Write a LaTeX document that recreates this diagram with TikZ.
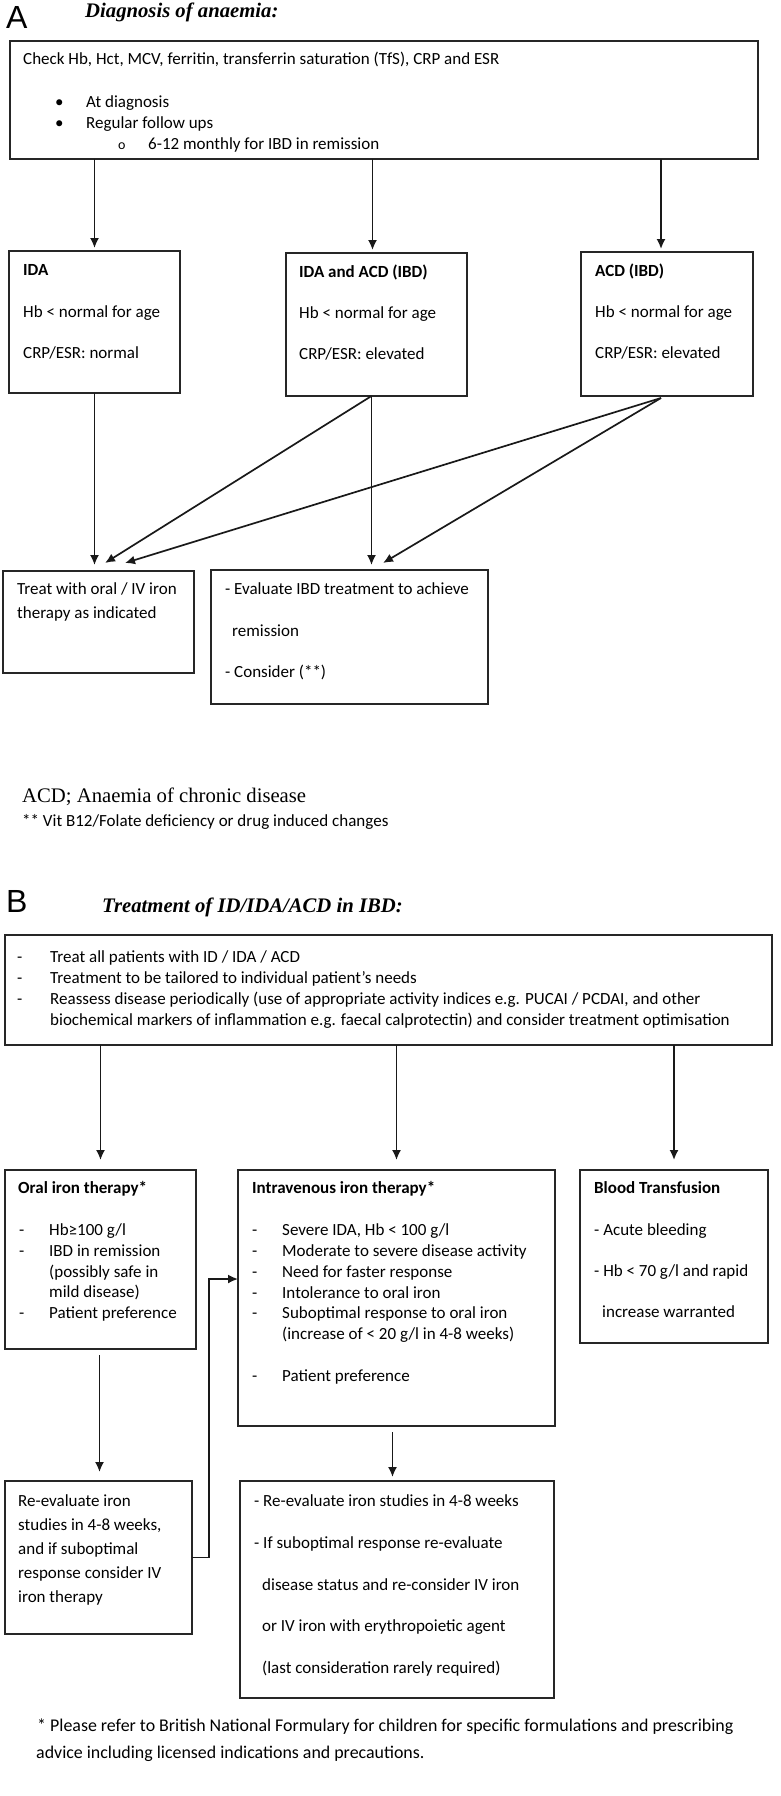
\documentclass[tikz,border=0pt]{standalone}
\usepackage{fontspec}
\setmainfont{Carlito}
\newfontfamily\tnr{Liberation Serif}
\newfontfamily\ari{Liberation Sans}
\usetikzlibrary{arrows.meta,calc}
\newcommand{\bodyf}{\fontsize{17pt}{20.7pt}\selectfont}
\begin{document}
\begin{tikzpicture}[x=1pt,y=-1pt,
 box/.style={draw=black!85,line width=1.6pt,rectangle,inner sep=0pt,outer sep=0pt,anchor=north west},
 tx/.style={anchor=base west,inner sep=0pt,font=\bodyf},
 hd/.style={anchor=base west,inner sep=0pt,font=\bodyf\bfseries},
 lab/.style={anchor=base west,inner sep=0pt,font=\ari\fontsize{32pt}{32pt}\selectfont},
 ttl/.style={anchor=base west,inner sep=0pt,font=\tnr\fontsize{20.7pt}{24pt}\selectfont\bfseries\itshape},
 arr/.style={-{Latex[length=10pt,width=9pt]},line width=1.7pt,draw=black!90},
]
\useasboundingbox (0,0) rectangle (780,1796);

% ---------------- Part A ----------------
\node[lab] (labA) at (6,28) {A};
\node[ttl] (ttlA) at (85,17) {Diagnosis of anaemia:};

\node[box,minimum width=748pt,minimum height=118pt] (chk) at (10,41) {};
\node[tx] (c1) at (23,64) {Check Hb, Hct, MCV, ferritin, transferrin saturation (TfS), CRP and ESR};
\node[tx] (c2b) at (55,107) {•};
\node[tx] (c2) at (86,107) {At diagnosis};
\node[tx] (c3b) at (55,128) {•};
\node[tx] (c3) at (86,128) {Regular follow ups};
\node[tx] (c4b) at (118,149) {\fontsize{14pt}{16pt}\selectfont o};
\node[tx] (c4) at (148,149) {6-12 monthly for IBD in remission};

\node[box,minimum width=171pt,minimum height=142pt] (ida) at (9,251) {};
\node[hd] (ida1) at (23,275) {IDA};
\node[tx] (ida2) at (23,317) {Hb < normal for age};
\node[tx] (ida3) at (23,358) {CRP/ESR: normal};

\node[box,minimum width=181pt,minimum height=143pt] (mid) at (286,253) {};
\node[hd] (mid1) at (299,277) {IDA and ACD (IBD)};
\node[tx] (mid2) at (299,318) {Hb < normal for age};
\node[tx] (mid3) at (299,359) {CRP/ESR: elevated};

\node[box,minimum width=172pt,minimum height=144pt] (acd) at (581,252) {};
\node[hd] (acd1) at (595,276) {ACD (IBD)};
\node[tx] (acd2) at (595,317) {Hb < normal for age};
\node[tx] (acd3) at (595,358) {CRP/ESR: elevated};

\node[box,minimum width=191pt,minimum height=102pt] (treat) at (3,571) {};
\node[tx] (tr1) at (17,594) {Treat with oral / IV iron};
\node[tx] (tr2) at (17,618) {therapy as indicated};

\node[box,minimum width=277pt,minimum height=134pt] (eval) at (211,570) {};
\node[tx] (ev1) at (225,594) {- Evaluate IBD treatment to achieve};
\node[tx] (ev2) at (232,636) {remission};
\node[tx] (ev3) at (225,677) {- Consider (**)};

\draw[arr,shorten >=3pt] (chk.south -| ida.north) -- (ida.north);
\draw[arr,shorten >=3pt] ([xshift=-4pt]chk.south -| mid.north) -- ([xshift=-4pt]mid.north);
\draw[arr,shorten >=3pt] ([xshift=-6pt]chk.south -| acd.north) -- ([xshift=-6pt]acd.north);

\coordinate (ta) at (105,563);
\coordinate (tb) at (125,563);
\coordinate (tc) at (383,563);
\draw[arr,shorten >=6pt] (ida.south) -- (ida.south |- treat.north);
\draw[arr] ([xshift=-5pt]mid.south) -- (ta);
\draw[arr,shorten >=5pt] ([xshift=-5pt]mid.south) -- ([xshift=-5pt]mid.south |- eval.north);
\draw[arr] ([xshift=-6pt,yshift=-2pt]acd.south) -- (tb);
\draw[arr] ([xshift=-6pt,yshift=-2pt]acd.south) -- (tc);

\node[anchor=base west,inner sep=0pt,font=\tnr\fontsize{20.7pt}{24pt}\selectfont] (fa1) at (22,802) {ACD; Anaemia of chronic disease};
\node[tx] (fa2) at (22,826) {** Vit B12/Folate deficiency or drug induced changes};

% ---------------- Part B ----------------
\node[lab] (labB) at (6,912) {B};
\node[ttl] (ttlB) at (102,912) {Treatment of ID/IDA/ACD in IBD:};

\node[box,minimum width=767pt,minimum height=110pt] (b1) at (5,935) {};
\node[tx] (b1d1) at (17,962) {-};
\node[tx] (b1t1) at (50,962) {Treat all patients with ID / IDA / ACD};
\node[tx] (b1d2) at (17,983) {-};
\node[tx] (b1t2) at (50,983) {Treatment to be tailored to individual patient’s needs};
\node[tx] (b1d3) at (17,1004) {-};
\node[tx] (b1t3) at (50,1004) {Reassess disease periodically (use of appropriate activity indices e.g. PUCAI / PCDAI, and other};
\node[tx] (b1t4) at (50,1025) {biochemical markers of inflammation e.g. faecal calprotectin) and consider treatment optimisation};

\node[box,minimum width=191pt,minimum height=179pt] (oral) at (5,1170) {};
\node[hd] (or0) at (18,1193) {Oral iron therapy*};
\node[tx] (ord1) at (19,1235) {-};
\node[tx] (or1) at (49,1235) {Hb≥100 g/l};
\node[tx] (ord2) at (19,1256) {-};
\node[tx] (or2) at (49,1256) {IBD in remission};
\node[tx] (or3) at (49,1277) {(possibly safe in};
\node[tx] (or4) at (49,1297) {mild disease)};
\node[tx] (ord5) at (19,1318) {-};
\node[tx] (or5) at (49,1318) {Patient preference};

\node[box,minimum width=317pt,minimum height=256pt] (iv) at (238,1170) {};
\node[hd] (iv0) at (252,1193) {Intravenous iron therapy*};
\node[tx] (ivd1) at (252,1235) {-};
\node[tx] (iv1) at (282,1235) {Severe IDA, Hb < 100 g/l};
\node[tx] (ivd2) at (252,1256) {-};
\node[tx] (iv2t) at (282,1256) {Moderate to severe disease activity};
\node[tx] (ivd3) at (252,1277) {-};
\node[tx] (iv3) at (282,1277) {Need for faster response};
\node[tx] (ivd4) at (252,1298) {-};
\node[tx] (iv4) at (282,1298) {Intolerance to oral iron};
\node[tx] (ivd5) at (252,1318) {-};
\node[tx] (iv5) at (282,1318) {Suboptimal response to oral iron};
\node[tx] (iv6) at (282,1339) {(increase of < 20 g/l in 4-8 weeks)};
\node[tx] (ivd7) at (252,1381) {-};
\node[tx] (iv7) at (282,1381) {Patient preference};

\node[box,minimum width=188pt,minimum height=173pt] (blood) at (580,1170) {};
\node[hd] (bl0) at (594,1193) {Blood Transfusion};
\node[tx] (bl1) at (594,1235) {- Acute bleeding};
\node[tx] (bl2) at (594,1276) {- Hb < 70 g/l and rapid};
\node[tx] (bl3) at (602,1317) {increase warranted};

\node[box,minimum width=187pt,minimum height=153pt] (reev) at (5,1481) {};
\node[tx] (re1) at (18,1506) {Re-evaluate iron};
\node[tx] (re2) at (18,1530) {studies in 4-8 weeks,};
\node[tx] (re3) at (18,1554) {and if suboptimal};
\node[tx] (re4) at (18,1578) {response consider IV};
\node[tx] (re5) at (18,1602) {iron therapy};

\node[box,minimum width=314pt,minimum height=217pt] (iv2) at (240,1481) {};
\node[tx] (ivb1) at (254,1506) {- Re-evaluate iron studies in 4-8 weeks};
\node[tx] (ivb2) at (254,1548) {- If suboptimal response re-evaluate};
\node[tx] (ivb3) at (262,1590) {disease status and re-consider IV iron};
\node[tx] (ivb4) at (262,1631) {or IV iron with erythropoietic agent};
\node[tx] (ivb5) at (262,1673) {(last consideration rarely required)};

\draw[arr,shorten >=10pt] (b1.south -| oral.north) -- (oral.north);
\draw[arr,shorten >=10pt] (b1.south -| iv.north) -- (iv.north);
\draw[arr,shorten >=10pt] (b1.south -| blood.north) -- (blood.north);
\draw[arr,shorten <=6pt,shorten >=9pt] ([xshift=-1pt]oral.south) -- ([xshift=-1pt]oral.south |- reev.north);
\draw[arr,shorten <=6pt,shorten >=4pt] ([xshift=-4pt]iv.south) -- ([xshift=-4pt]iv.south |- iv2.north);
\draw[arr] (reev.east) -- ++(17,0) |- ([yshift=19pt]iv.west);

\node[anchor=base west,inner sep=0pt,font=\fontsize{17.9pt}{21pt}\selectfont] (fb1) at (37,1731) {* Please refer to British National Formulary for children for specific formulations and prescribing};
\node[anchor=base west,inner sep=0pt,font=\fontsize{17.9pt}{21pt}\selectfont] (fb2) at (36,1758) {advice including licensed indications and precautions.};
\end{tikzpicture}
\end{document}
